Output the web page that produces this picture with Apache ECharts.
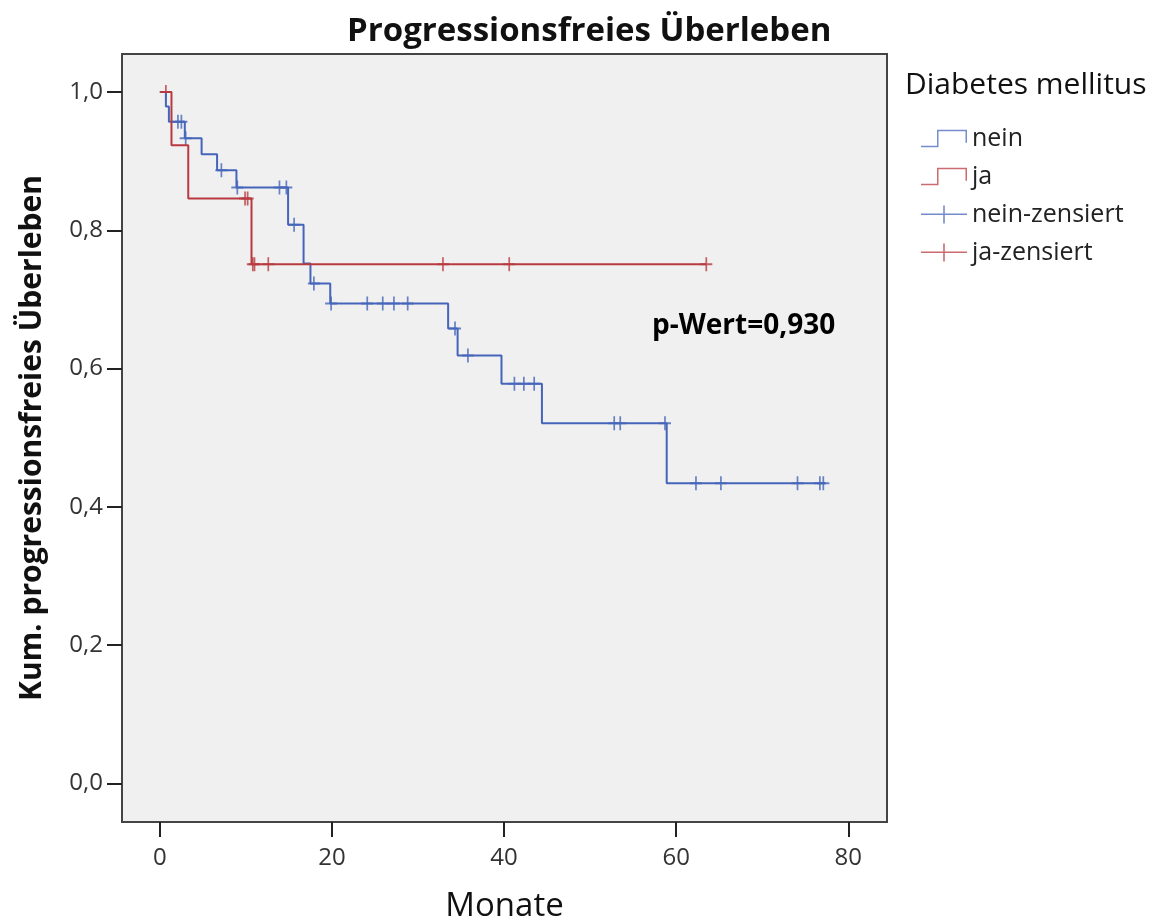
<!DOCTYPE html>
<html>
<head>
<meta charset="utf-8">
<title>Progressionsfreies Überleben</title>
<script src="https://cdn.jsdelivr.net/npm/echarts@6/dist/echarts.min.js"></script>
<style>
html,body{margin:0;padding:0;background:#fff;}
#chart{width:1164px;height:922px;}
</style>
</head>
<body>
<div id="chart"></div>
<script>
// Kaplan-Meier Stufen: Monate / kum. Überleben
var neinMonate = [0, 0.7, 1.05, 2.9, 4.85, 6.65, 8.9, 14.9, 16.7, 17.5, 19.8, 33.5, 34.6, 39.7, 44.4, 58.9, 77.3];
var neinWerte  = [1.0, 0.979, 0.957, 0.933, 0.910, 0.887, 0.862, 0.808, 0.752, 0.723, 0.694, 0.658, 0.619, 0.578, 0.521, 0.434, 0.434];
var jaMonate = [0, 1.35, 3.3, 10.65, 63.5];
var jaWerte  = [1.0, 0.923, 0.846, 0.751, 0.751];
// zensierte Fälle
var neinZensMonate = [2.1, 2.5, 3.0, 7.15, 9.0, 13.9, 14.7, 15.6, 17.9, 19.9, 24.1, 25.9, 27.2, 28.8, 34.3, 35.8, 41.2, 42.3, 43.5, 52.8, 53.5, 58.7, 62.3, 65.2, 74.1, 76.7, 77.1];
var neinZensWerte  = [0.957, 0.957, 0.933, 0.887, 0.862, 0.862, 0.862, 0.808, 0.723, 0.694, 0.694, 0.694, 0.694, 0.694, 0.658, 0.619, 0.578, 0.578, 0.578, 0.521, 0.521, 0.521, 0.434, 0.434, 0.434, 0.434, 0.434];
var jaZensMonate = [0.7, 9.9, 10.2, 10.8, 11.0, 12.6, 32.9, 40.6, 63.5];
var jaZensWerte  = [1.0, 0.846, 0.846, 0.751, 0.751, 0.751, 0.751, 0.751, 0.751];
// Achsen
var xTicks = [0, 20, 40, 60, 80];
var yTicks = [0, 0.2, 0.4, 0.6, 0.8, 1.0];

var blau = '#4565ba';
var rot = '#b83a40';
var schrift = 'Open Sans';

function paare(a, b){
	var out = [];
	for(var i=0;i<a.length;i++){
		out.push([a[i], b[i]]);
	}
	return out;
}

var plusSymbol = 'path://M0,6 L14,6 L14,8 L0,8 Z M6,0 L8,0 L8,14 L6,14 Z';
var stufeIcon = 'path://M0,16 L16,16 L16,0 L46,0 L46,13 L44.5,13 L44.5,1.5 L17.5,1.5 L17.5,17.5 L0,17.5 Z';
var kreuzIcon = 'path://M0,8 L46,8 L46,9.6 L0,9.6 Z M22.2,0 L23.8,0 L23.8,18 L22.2,18 Z';

var chart = echarts.init(document.getElementById('chart'));
var option = {
	backgroundColor: '#fff',
	animation: false,
	title: {
		text: 'Progressionsfreies Überleben',
		left: 342,
		top: 10,
		textStyle: {fontFamily: schrift, fontWeight: 'bold', fontSize: 33, color: '#111'}
	},
	grid: {
		left: 122, right: 277, top: 54, bottom: 100,
		outerBoundsMode: 'none',
		containLabel: false,
		show: true,
		backgroundColor: '#f0f0f0',
		borderColor: '#444',
		borderWidth: 2
	},
	legend: {
		orient: 'vertical',
		left: 921,
		top: 126,
		itemWidth: 46,
		itemHeight: 18,
		itemGap: 13,
		padding: 0,
		textStyle: {fontFamily: schrift, fontSize: 25, color: '#222'},
		data: [
			{name: 'nein', icon: stufeIcon, itemStyle: {opacity: 0.75}},
			{name: 'ja', icon: stufeIcon, itemStyle: {opacity: 0.75}},
			{name: 'nein-zensiert', icon: kreuzIcon, itemStyle: {opacity: 0.75}},
			{name: 'ja-zensiert', icon: kreuzIcon, itemStyle: {opacity: 0.75}}
		]
	},
	graphic: [
		{type: 'text', left: 905, top: 70, style: {text: 'Diabetes mellitus', font: '30px "Open Sans"', fill: '#111'}},
		{type: 'text', left: 652, top: 312, style: {text: 'p-Wert=0,930', font: 'bold 28px "Open Sans"', fill: '#000'}}
	],
	xAxis: {
		type: 'value',
		min: -4.4,
		max: 84.5,
		name: 'Monate',
		nameLocation: 'middle',
		nameGap: 68,
		nameTextStyle: {fontFamily: schrift, fontSize: 33, color: '#111'},
		axisLine: {show: false, onZero: false},
		splitLine: {show: false},
		axisTick: {show: true, length: 15, customValues: xTicks, lineStyle: {color: '#222', width: 2}},
		axisLabel: {customValues: xTicks, margin: 24, fontFamily: schrift, fontSize: 24, color: '#333'}
	},
	yAxis: {
		type: 'value',
		min: -0.056,
		max: 1.055,
		name: 'Kum. progressionsfreies Überleben',
		nameLocation: 'middle',
		nameGap: 75,
		nameRotate: 90,
		nameTextStyle: {fontFamily: schrift, fontWeight: 'bold', fontSize: 30, color: '#111'},
		axisLine: {show: false, onZero: false},
		splitLine: {show: false},
		axisTick: {show: true, length: 15, customValues: yTicks, lineStyle: {color: '#222', width: 2}},
		axisLabel: {
			customValues: yTicks, margin: 19, fontFamily: schrift, fontSize: 24, color: '#333',
			formatter: function(v){ return v.toFixed(1).replace('.', ','); }
		}
	},
	series: [
		{
			name: 'nein', type: 'line', step: 'end', showSymbol: false,
			data: paare(neinMonate, neinWerte),
			lineStyle: {color: blau, width: 2}, itemStyle: {color: blau}
		},
		{
			name: 'ja', type: 'line', step: 'end', showSymbol: false,
			data: paare(jaMonate, jaWerte),
			lineStyle: {color: rot, width: 2}, itemStyle: {color: rot}
		},
		{
			name: 'nein-zensiert', type: 'scatter', symbol: plusSymbol, symbolSize: [12, 14],
			data: paare(neinZensMonate, neinZensWerte),
			itemStyle: {color: blau}
		},
		{
			name: 'ja-zensiert', type: 'scatter', symbol: plusSymbol, symbolSize: [12, 14],
			data: paare(jaZensMonate, jaZensWerte),
			itemStyle: {color: rot}
		}
	]
};
chart.setOption(option);
</script>
</body>
</html>
